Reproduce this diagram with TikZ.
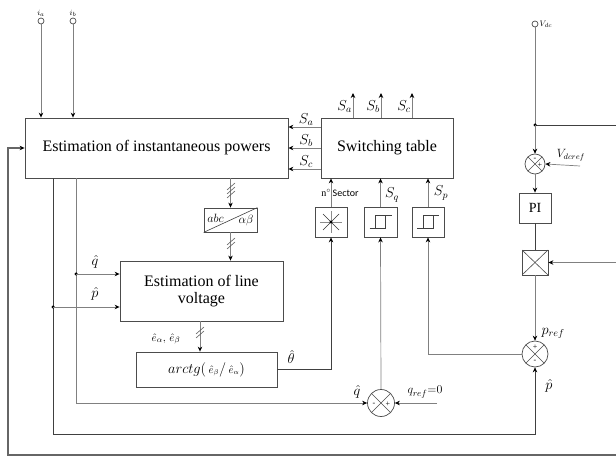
\documentclass[tikz,border=0pt]{standalone}
\usepackage{fontspec}
\setmainfont{Liberation Serif}
\newfontfamily\sectorfont{Carlito}
\usetikzlibrary{arrows.meta,calc}

\tikzset{
  blk/.style={draw=black!70, line width=0.8pt, fill=white, inner sep=0pt, align=center,
    font=\fontsize{16}{17}\selectfont},
  wire/.style={draw=black!50, line width=0.7pt},
  wiredark/.style={draw=black!75, line width=0.8pt},
  arr/.style={-{Stealth[length=5pt,width=4.5pt,black]}},
  term/.style={circle, draw=black!70, line width=0.7pt, minimum size=6pt, inner sep=0pt},
  sumj/.style={circle, draw=black!70, line width=0.7pt, fill=white, minimum size=#1, inner sep=0pt,
    path picture={\draw[black!70, line width=0.6pt]
      (path picture bounding box.north west) -- (path picture bounding box.south east)
      (path picture bounding box.north east) -- (path picture bounding box.south west);}},
  mulbox/.style={draw=black!70, line width=0.7pt, fill=white, minimum width=26pt, minimum height=25pt,
    inner sep=0pt,
    path picture={\draw[black!70, line width=0.6pt]
      (path picture bounding box.north west) -- (path picture bounding box.south east)
      (path picture bounding box.north east) -- (path picture bounding box.south west);}},
  sgn/.style={inner sep=0pt, font=\fontsize{8}{8}\selectfont},
  mlbl/.style={inner sep=1pt, font=\fontsize{14}{15}\selectfont},
  slbl/.style={inner sep=1pt, font=\fontsize{8}{9}\selectfont},
  dot/.style={circle, fill=black, inner sep=0pt, minimum size=3.5pt},
}

% hysteresis symbol
\newcommand\hystloop[1]{%
  \draw[black!75, line width=0.6pt] ($(#1)+(-11,6)$) -- ($(#1)+(5,6)$) -- ($(#1)+(5,-7)$) -- ($(#1)+(11,-7)$);
  \draw[black!75, line width=0.6pt] ($(#1)+(-5,6)$) -- ($(#1)+(-5,-7)$) -- ($(#1)+(5,-7)$);}
% slash marks on a vertical wire
\newcommand\slashes[3]{%
  \foreach \k in {1,...,#3}
    \draw[black!65, line width=0.6pt] ($(#1,#2)+(-4,4)+(0,\k*4)$) -- ($(#1,#2)+(4,-3)+(0,\k*4)$);}

\begin{document}
\begin{tikzpicture}[x=1pt, y=-1pt]
  \useasboundingbox (0,0) rectangle (616,457);

  % blocks
  \node[blk, minimum width=263pt, minimum height=60pt] (est) at (156.5,148) {Estimation of instantaneous powers};
  \node[blk, minimum width=132pt, minimum height=60pt] (sw) at (387,148) {Switching table};
  \node[blk, minimum width=53pt, minimum height=24pt] (abc) at (230.5,220) {};
  \draw[black!75, line width=0.6pt] (abc.south west) -- (abc.north east);
  \node[mlbl, font=\fontsize{13}{14}\selectfont] (abcl) at (215.5,218) {$abc$};
  \node[mlbl, font=\fontsize{13}{14}\selectfont] (abcr) at (246,221) {$\alpha\beta$};
  \node[blk, minimum width=163pt, minimum height=60pt] (lv) at (201.5,291) {Estimation of line\\voltage};
  \node[blk, minimum width=141pt, minimum height=35pt, font=\fontsize{15}{16}\selectfont] (atg) at (206.5,369.5)
    {$arctg(\,{\scriptstyle\hat{e}_\beta}/\,{\scriptstyle\hat{e}_\alpha})$};
  \node[blk, minimum width=32pt, minimum height=30pt] (sec) at (331,222) {};
  \node[blk, minimum width=33pt, minimum height=30pt] (hq) at (380.5,222) {};
  \node[blk, minimum width=32pt, minimum height=30pt] (hp) at (428,222) {};
  \node[blk, minimum width=32pt, minimum height=30pt, font=\fontsize{14}{15}\selectfont] (pi) at (535,208) {PI};
  \node[mulbox] (mult) at (535,262.5) {};
  \node[sumj=20pt] (sdc) at (535,164) {};
  \node[sumj=26pt] (sp) at (535,354) {};
  \node[sumj=27pt] (sq) at (381,403) {};

  % symbols inside blocks
  \draw[black!45, line width=0.6pt] ($(sec)+(-11,0)$) -- ($(sec)+(11,0)$) ($(sec)+(0,-11)$) -- ($(sec)+(0,11)$);
  \draw[black!80, line width=0.7pt] ($(sec)+(-8,-8)$) -- ($(sec)+(8,8)$) ($(sec)+(8,-8)$) -- ($(sec)+(-8,8)$);
  \fill (sec) circle (1.6pt);
  \hystloop{hq}
  \hystloop{hp}
  \node[sgn] at ($(sdc)+(0,-5)$) {-};
  \node[sgn] at ($(sdc)+(5,1)$) {+};
  \node[sgn] at ($(sp)+(0,-7)$) {+};
  \node[sgn] at ($(sp)+(0,7)$) {-};
  \node[sgn] at ($(sq)+(-7,1)$) {-};
  \node[sgn] at ($(sq)+(7,1)$) {+};

  % current inputs
  \node[term] (ia) at (41,21) {};
  \node[term] (ib) at (73,21) {};
  \node[slbl, above] (ialbl) at (ia.north) {$i_a$};
  \node[slbl, above] (iblbl) at (ib.north) {$i_b$};
  \draw[wire, arr] (ia) -- (ia |- est.north);
  \draw[wire, arr] (ib) -- (ib |- est.north);

  % switching states
  \foreach \x/\s in {353/a,381/b,412/c} {
    \coordinate (out\s) at (\x,93);
    \draw[wire, arr] (sw.north -| out\s) -- (out\s);
    \node[mlbl, left] at (\x,107) {$S_\s$};
  }
  \foreach \y/\s in {127/a,148/b,169/c} {
    \coordinate (fb\s) at (300,\y);
    \draw[wire, arr] (sw.west |- fb\s) -- node[mlbl, above, pos=0.45] {$S_\s$} (est.east |- fb\s);
  }

  % abc/alpha-beta chain
  \draw[wire, arr] (est.south -| abc) -- (abc.north);
  \slashes{231}{182}{3}
  \draw[wire, arr] (abc.south) -- (abc.south |- lv.north);
  \slashes{231}{237}{2}
  \coordinate (ech) at (200,336);
  \draw[wire, arr] (lv.south -| ech) -- (atg.north -| ech);
  \slashes{200}{326}{2}
  \node[mlbl, font=\fontsize{11}{12}\selectfont] (elbl) at (166,339) {$\hat{e}_\alpha,\,\hat{e}_\beta$};

  % sector and hysteresis
  \draw[wiredark, arr] (atg.east) -| (sec.south);
  \node[mlbl] (thlbl) at (291,357) {$\hat{\theta}$};
  \draw[wire, arr] (sec.north) -- (sec.north |- sw.south);
  \node[inner sep=0pt, font=\fontsize{10}{11}\selectfont] (seclbl) at (340,193) {n$^\circ$\,\sectorfont Sector};
  \draw[wire, arr] (hq.north) -- (hq.north |- sw.south);
  \node[mlbl] (sqlbl) at (392,195) {$S_q$};
  \draw[wire, arr] (hp.north) -- (hp.north |- sw.south);
  \node[mlbl] (splbl) at (441,193) {$S_p$};

  % reactive power loop
  \coordinate (qtap) at (76,274);
  \draw[wire, arr] (est.south -| qtap) |- (sq.west);
  \node[mlbl] (qhat2) at (357,392) {$\hat{q}$};
  \node[dot] at (qtap) {};
  \draw[wire, arr] (qtap) -- (qtap -| lv.west);
  \node[mlbl] (qhat1) at (95,262) {$\hat{q}$};
  \coordinate (qref) at (437,403);
  \draw[wire, arr] (qref) -- (sq.east);
  \node[mlbl, font=\fontsize{13}{14}\selectfont] (qreflbl) at (425,392) {$q_{ref}{=}0$};
  \draw[wire, arr] (sq.north) -- (hq.south);

  % active power loop
  \coordinate (ptap) at (53,307);
  \coordinate (pbot) at (53,434);
  \draw[wiredark, arr] (est.south -| ptap) -- (pbot) -| (sp.south);
  \node[dot] at (ptap) {};
  \draw[wire, arr] (ptap) -- (ptap -| lv.west);
  \node[mlbl] (phat1) at (95,294) {$\hat{p}$};
  \node[mlbl] (phat2) at (549,386) {$\hat{p}$};
  \draw[wire, arr] (sp.west) -| (hp.south);

  % dc link
  \node[term] (vdc) at (535,24) {};
  \node[slbl, right] (vdclbl) at (vdc.east) {$V_{dc}$};
  \coordinate (vdcj) at (535,125);
  \coordinate (vdcout) at (616,125);
  \draw[wire] (vdc) -- (vdcj);
  \draw[wiredark] (vdcj) -- (vdcout);
  \node[dot] at (vdcj) {};
  \draw[wire, arr] (vdcj) -- (sdc.north);
  \coordinate (vref) at (580,166);
  \draw[wire, arr] (vref) -- (sdc.east);
  \node[mlbl, font=\fontsize{12}{13}\selectfont] (vreflbl) at (571,155) {$V_{dcref}$};
  \draw[wire, arr] (sdc.south) -- (pi.north);
  \draw[wiredark] (pi.south) -- (mult.north);
  \coordinate (multin) at (616,262.5);
  \draw[wire, arr] (multin) -- (mult.east);
  \draw[wire, arr] (mult.south) -- (sp.north);
  \node[mlbl] (preflbl) at (553,333) {$p_{ref}$};

  % outer feedback
  \coordinate (loopr) at (616,455);
  \coordinate (loopl) at (8,455);
  \draw[draw=black!60, line width=1.2pt, arr] (loopr) -- (loopl) |- (est.west);
\end{tikzpicture}
\end{document}
